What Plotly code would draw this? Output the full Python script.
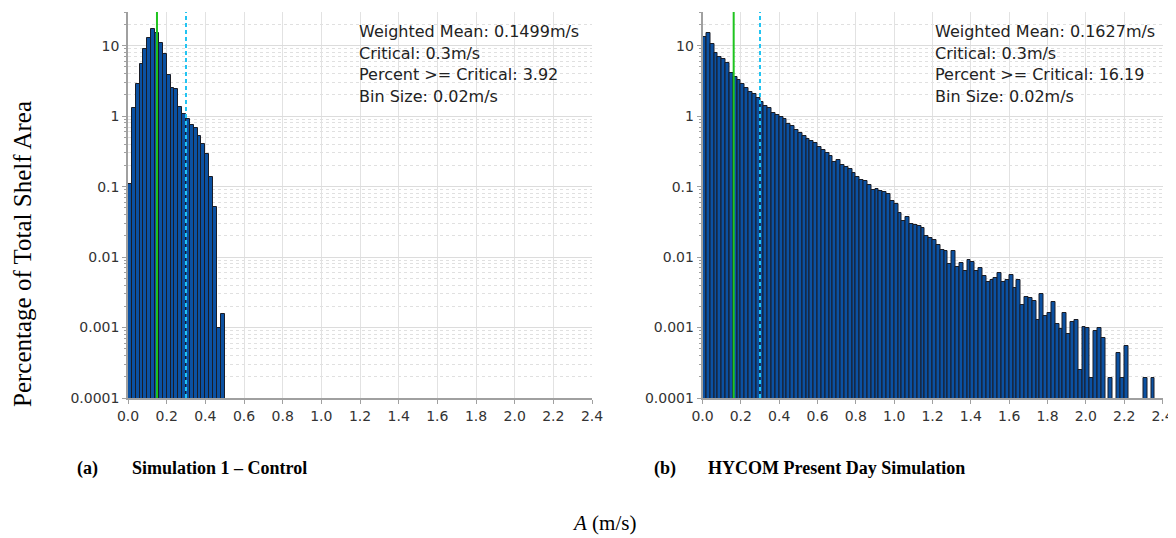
import plotly.graph_objects as go

W, H = 1176, 538      # browser window
OFF = 8               # default page margin around the plot div
FW, FH = W - OFF, H - OFF
BIN = 0.02

# Percentage of total shelf area per 0.02 m/s bin (starting at 0.0)
control_pct = [0.11, 1.30, 2.86, 5.5, 9.1, 12.8, 17.3, 15.0, 11.0, 7.6,
               3.9, 2.5, 2.45, 1.36, 1.07, 0.91, 0.75, 0.69, 0.515, 0.40,
               0.286, 0.139, 0.0516, 0.00098, 0.00155]

hycom_pct = [13.3, 15.0, 10.5, 8.0, 6.9, 6.4, 5.6, 4.15, 3.65, 3.3,
             2.85, 2.55, 2.2, 2.05, 1.8, 1.6, 1.4, 1.3, 1.12, 1.03,
             0.98, 0.91, 0.77, 0.72, 0.645, 0.58, 0.52, 0.48, 0.45, 0.42,
             0.37, 0.33, 0.30, 0.27, 0.22, 0.24, 0.20, 0.19, 0.175, 0.156,
             0.137, 0.125, 0.122, 0.106, 0.089, 0.093, 0.088, 0.084, 0.078, 0.063,
             0.056, 0.042, 0.0326, 0.0375, 0.0296, 0.0283, 0.0277, 0.026, 0.020, 0.0187,
             0.0177, 0.0149, 0.0125, 0.0123, 0.0079, 0.012, 0.0072, 0.0083, 0.0064, 0.0092,
             0.0085, 0.0063, 0.0071, 0.0054, 0.0045, 0.0047, 0.0051, 0.0059, 0.0044, 0.0047,
             0.0055, 0.0037, 0.0048, 0.0021, 0.0027, 0.0026, 0.0024, 0.00126, 0.0030, 0.00145,
             0.0016, 0.0023, 0.00114, 0.00095, 0.0016, 0.00082, 0.0012, 0.0013, 0.00025, 0.00102,
             0.00097, 0.00019, 0.0009, 0.0010, 0.0007, None, 0.00019, None, 0.00044, 0.00019,
             0.00055, None, None, None, None, 0.00019, None, 0.00019]

means = [0.1499, 0.1627]
critical = 0.3
info_left = ["Weighted Mean: 0.1499m/s", "Critical: 0.3m/s",
             "Percent >= Critical: 3.92", "Bin Size: 0.02m/s"]
info_right = ["Weighted Mean: 0.1627m/s", "Critical: 0.3m/s",
              "Percent >= Critical: 16.19", "Bin Size: 0.02m/s"]
y_tickvals = [0.0001, 0.001, 0.01, 0.1, 1, 10]
y_ticktext = ["0.0001", "0.001", "0.01", "0.1", "1", "10"]
captions = [("(a)", "Simulation 1 \u2013 Control"), ("(b)", "HYCOM Present Day Simulation")]

def centers(vals):
    return [BIN * i + BIN / 2 for i in range(len(vals))]

fig = go.Figure()
bar_style = dict(marker=dict(color="#0b51a2", line=dict(color="#1a1d26", width=1)),
                 width=BIN, showlegend=False)
fig.add_trace(go.Bar(x=centers(control_pct), y=control_pct, xaxis="x", yaxis="y", **bar_style))
fig.add_trace(go.Bar(x=centers(hycom_pct), y=hycom_pct, xaxis="x2", yaxis="y2", **bar_style))

# screen pixel -> paper fraction
px_x = lambda p: (p - OFF) / FW
px_y = lambda p: 1 - (p - OFF) / FH
xdom1 = [px_x(128), px_x(592)]
xdom2 = [px_x(702.5), px_x(1162.5)]
ydom = [px_y(398), px_y(12)]

minor_vals = [m * 10 ** e for e in range(-4, 2) for m in range(2, 10)]

def xaxis_cfg(dom, anchor):
    return dict(domain=dom, anchor=anchor, range=[0, 2.4], dtick=0.2, tick0=0,
                tickformat=".1f", showgrid=True, gridcolor="#e2e2e2", gridwidth=1,
                showline=True, linecolor="#a0a0a0", linewidth=1.5, ticks="outside",
                ticklen=4, tickcolor="#a0a0a0", zeroline=False, automargin=False,
                ticklabeloverflow="allow",
                tickfont=dict(family="DejaVu Sans", size=14, color="#333333"))

def yaxis_cfg(anchor):
    return dict(domain=ydom, anchor=anchor, type="log", range=[-4, 1.478],
                tickvals=y_tickvals, ticktext=y_ticktext, showgrid=True,
                gridcolor="#dcdcdc", gridwidth=1, showline=True, linecolor="#a0a0a0",
                linewidth=1.5, ticks="outside", ticklen=4, tickcolor="#a0a0a0",
                zeroline=False, automargin=False,
                tickfont=dict(family="DejaVu Sans", size=14, color="#333333"),
                minor=dict(tickvals=minor_vals, showgrid=True, griddash="dot",
                           gridcolor="#e0e0e0", gridwidth=1, ticks="outside",
                           ticklen=2, tickcolor="#a0a0a0"))

fig.update_layout(
    width=FW, height=FH, margin=dict(l=0, r=0, t=0, b=0, autoexpand=False),
    paper_bgcolor="white", plot_bgcolor="white", bargap=0,
    xaxis=xaxis_cfg(xdom1, "y"), yaxis=yaxis_cfg("x"),
    xaxis2=xaxis_cfg(xdom2, "y2"), yaxis2=yaxis_cfg("x2"),
)

# mean and critical lines
for xa, ya, m in [("x", "y", means[0]), ("x2", "y2", means[1])]:
    fig.add_shape(type="line", xref=xa, yref=ya + " domain", x0=m, x1=m, y0=0, y1=1,
                  line=dict(color="#1fc41f", width=2))
    fig.add_shape(type="line", xref=xa, yref=ya + " domain", x0=critical, x1=critical,
                  y0=0, y1=1, line=dict(color="#22c4f2", width=2, dash="4px,3px"))

line_y = [32, 53.5, 75, 97]
for x0, lines in [(357, info_left), (933, info_right)]:
    for yy, t in zip(line_y, lines):
        fig.add_annotation(xref="paper", yref="paper", x=px_x(x0), y=px_y(yy), text=t,
                           showarrow=False, xanchor="left", yanchor="middle",
                           font=dict(family="DejaVu Sans", size=16, color="#222222"))

serif = "Liberation Serif"
for (lab, cap), xl, xc in zip(captions, [75, 652], [130, 706]):
    fig.add_annotation(xref="paper", yref="paper", x=px_x(xl), y=px_y(468), text="<b>%s</b>" % lab,
                       showarrow=False, xanchor="left", yanchor="middle",
                       font=dict(family=serif, size=18, color="black"))
    fig.add_annotation(xref="paper", yref="paper", x=px_x(xc), y=px_y(468), text="<b>%s</b>" % cap,
                       showarrow=False, xanchor="left", yanchor="middle",
                       font=dict(family=serif, size=18, color="black"))

fig.add_annotation(xref="paper", yref="paper", x=px_x(604), y=px_y(523), text="<i>A</i> (m/s)",
                   showarrow=False, xanchor="center", yanchor="middle",
                   font=dict(family=serif, size=21, color="black"))
fig.add_annotation(xref="paper", yref="paper", x=px_x(22), y=px_y(254),
                   text="Percentage of Total Shelf Area", textangle=-90,
                   showarrow=False, xanchor="center", yanchor="middle",
                   font=dict(family=serif, size=25, color="black"))

fig.write_html("out.html")
